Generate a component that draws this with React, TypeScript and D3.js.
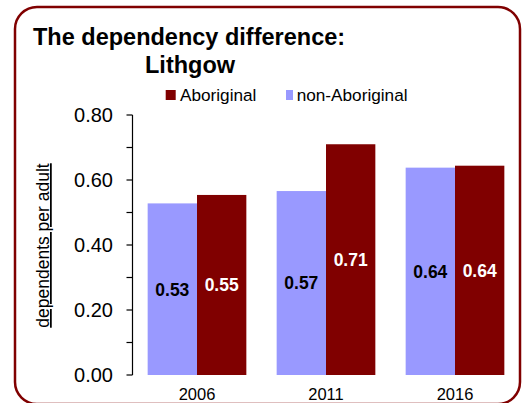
import React from "react";
import * as d3 from "d3";

const years = ["2006", "2011", "2016"];
const nonAboriginal = [0.53, 0.57, 0.64];
const aboriginal = [0.55, 0.71, 0.64];
const nonAbDrawn = [0.528, 0.566, 0.638];
const abDrawn = [0.554, 0.71, 0.644];
const yTicks = [0, 0.2, 0.4, 0.6, 0.8];
const yMinorTicks = [0.1, 0.3, 0.5, 0.7];
const seriesNames = ["Aboriginal", "non-Aboriginal"];

const RED = "#800000";
const BLUE = "#9999FF";
const FONT = "Liberation Sans, Arial, sans-serif";

export default function App() {
  const y = d3.scaleLinear().domain([0, 0.8]).range([375, 115]);
  const x = d3
    .scaleBand<string>()
    .domain(years)
    .range([132.5, 519.5])
    .paddingInner(0.235)
    .paddingOuter(0.1175);
  const inner = d3
    .scaleBand<string>()
    .domain(["non", "ab"])
    .range([0, x.bandwidth()]);
  const bw = inner.bandwidth();

  return (
    <svg
      width={529}
      height={403}
      style={{ position: "absolute", left: 0, top: 0, background: "#fff" }}
      fontFamily={FONT}
    >
      <rect x={15} y={7} width={505} height={397} rx={22} ry={22} fill="#fff" stroke={RED} strokeWidth={2.5} />
      <text x={33} y={45} fontSize={23.5} fontWeight="bold">The dependency difference:</text>
      <text x={145} y={72.5} fontSize={23.5} fontWeight="bold">Lithgow</text>

      {/* legend */}
      <rect x={165.7} y={90} width={10} height={10} fill={RED} />
      <text x={180} y={100.5} fontSize={17.2}>{seriesNames[0]}</text>
      <rect x={286} y={90} width={7} height={10} fill={BLUE} />
      <text x={296.7} y={100.5} fontSize={17.2}>{seriesNames[1]}</text>

      {/* y axis */}
      <line x1={132.5} x2={132.5} y1={y(0.8)} y2={y(0)} stroke="#000" strokeWidth={1.2} />
      {[...yTicks, ...yMinorTicks].map((t) => (
        <line key={"t" + t} x1={126.5} x2={132.5} y1={y(t)} y2={y(t)} stroke="#000" strokeWidth={1.2} />
      ))}
      {yTicks.map((t) => (
        <text key={"l" + t} x={113} y={y(t)} dy="0.36em" textAnchor="end" fontSize={20}>
          {t.toFixed(2)}
        </text>
      ))}
      <text
        transform={`translate(49,245.5) rotate(-90)`}
        textAnchor="middle"
        fontSize={17.5}
        textDecoration="underline"
      >
        dependents per adult
      </text>

      {/* bars */}
      {years.map((yr, i) => {
        const x0 = x(yr)!;
        const nx = x0 + inner("non")!;
        const ax = x0 + inner("ab")!;
        return (
          <g key={yr}>
            <rect x={nx} y={y(nonAbDrawn[i])} width={bw} height={y(0) - y(nonAbDrawn[i])} fill={BLUE} />
            <rect x={ax} y={y(abDrawn[i])} width={bw} height={y(0) - y(abDrawn[i])} fill={RED} />
            <text
              x={nx + bw / 2}
              y={(y(nonAbDrawn[i]) + y(0)) / 2}
              dy="0.36em"
              textAnchor="middle"
              fontSize={17.5}
              fontWeight="bold"
              fill="#000"
            >
              {nonAboriginal[i].toFixed(2)}
            </text>
            <text
              x={ax + bw / 2}
              y={(y(abDrawn[i]) + y(0)) / 2}
              dy="0.36em"
              textAnchor="middle"
              fontSize={17.5}
              fontWeight="bold"
              fill="#fff"
            >
              {aboriginal[i].toFixed(2)}
            </text>
            <text x={x0 + x.bandwidth() / 2} y={400} textAnchor="middle" fontSize={16.5}>
              {yr}
            </text>
          </g>
        );
      })}
    </svg>
  );
}
